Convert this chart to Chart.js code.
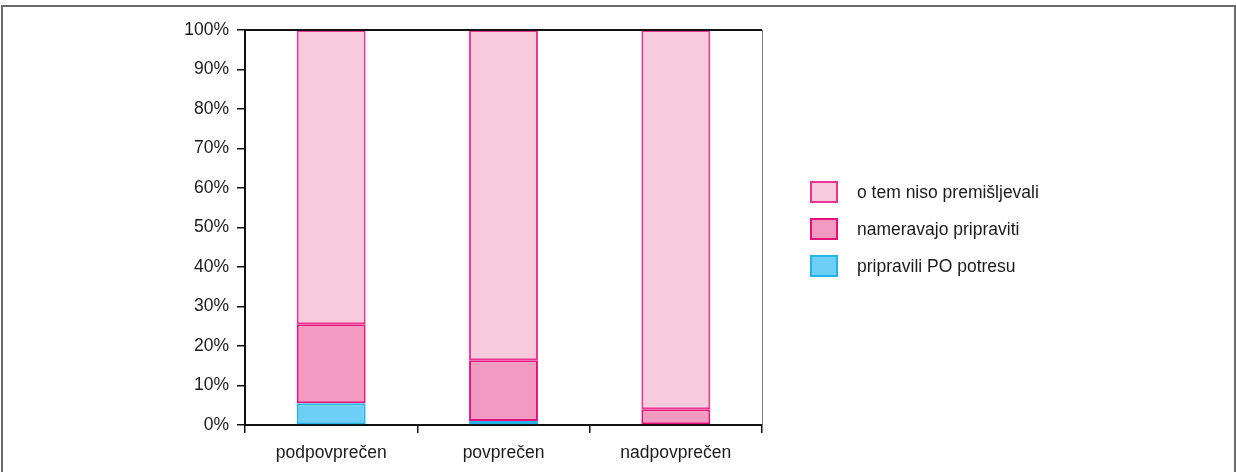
<!DOCTYPE html>
<html><head><meta charset="utf-8">
<script src="https://cdn.jsdelivr.net/npm/chart.js@4/dist/chart.umd.min.js"></script>
<style>
html,body{margin:0;padding:0;background:#fff;width:1236px;height:472px;overflow:hidden;font-family:"Liberation Sans",Arial,sans-serif;}
#frame{position:absolute;left:1px;top:5px;width:1231px;height:480px;border:2px solid #6b6b6b;border-bottom:none;}
#wrap{position:absolute;left:0;top:0;width:1236px;height:472px;}
#legend{position:absolute;left:810px;top:181px;}
.item{position:relative;height:37px;}
.box{position:absolute;left:0;top:0;width:24px;height:18px;border:2px solid;}
.lab{position:absolute;left:47px;top:1px;font-size:17.5px;color:#1a1a1a;white-space:nowrap;line-height:20px;}
</style></head>
<body>
<div id="frame"></div>
<div id="wrap"><canvas id="c" width="1236" height="472"></canvas></div>
<div id="legend"></div>
<script>
const categories = ["podpovprečen", "povprečen", "nadpovprečen"];
const seriesNames = ["pripravili PO potresu", "nameravajo pripraviti", "o tem niso premišljevali"];
const pripraviliPO = [5.5, 1.0, 0];
const nameravajo = [20.0, 15.4, 4.0];
const niso = [74.5, 83.6, 96.0];
const yTicks = [0, 10, 20, 30, 40, 50, 60, 70, 80, 90, 100];

const fills = ["#6dcff6", "#f29ac0", "#f7cade"];
const borders = ["#25b4ea", "#e6117c", "#ec3591"];
const values = [pripraviliPO, nameravajo, niso];

const datasets = seriesNames.map((n, i) => ({
  label: n, data: values[i], backgroundColor: fills[i], borderColor: borders[i],
  borderWidth: 2, borderSkipped: false, barPercentage: 0.4, categoryPercentage: 1
}));

const frameLines = {
  id: 'frameLines',
  afterDraw(chart) {
    const {ctx, chartArea: a} = chart;
    ctx.save();
    ctx.strokeStyle = '#777'; ctx.lineWidth = 1;
    ctx.beginPath(); ctx.moveTo(a.right + 0.5, a.top); ctx.lineTo(a.right + 0.5, a.bottom); ctx.stroke();
    ctx.strokeStyle = '#111'; ctx.lineWidth = 2;
    ctx.beginPath(); ctx.moveTo(a.left, a.top); ctx.lineTo(a.right, a.top); ctx.stroke();
    ctx.restore();
  }
};

Chart.defaults.font.family = '"Liberation Sans", Arial, sans-serif';
Chart.defaults.color = '#1a1a1a';

new Chart(document.getElementById('c'), {
  type: 'bar',
  data: { labels: categories, datasets },
  plugins: [frameLines],
  options: {
    responsive: false, animation: false,
    layout: { padding: { left: 0, right: 474, top: 30, bottom: 0 } },
    plugins: { legend: { display: false }, tooltip: { enabled: false } },
    scales: {
      x: {
        stacked: true, offset: true,
        grid: { offset: true, drawOnChartArea: false, tickLength: 8, color: '#111', lineWidth: 1.5 },
        border: { color: '#111', width: 2 },
        ticks: { font: { size: 17.5 }, padding: 10, color: '#1a1a1a' },
        afterFit: s => { s.height = 47; }
      },
      y: {
        stacked: true, min: 0, max: 100,
        afterBuildTicks: s => { s.ticks = yTicks.map(v => ({ value: v })); },
        grid: { drawOnChartArea: false, tickLength: 8, color: '#111', lineWidth: 1.5 },
        border: { color: '#111', width: 2 },
        ticks: { font: { size: 17.5 }, padding: 8, color: '#1a1a1a', callback: v => v + '%' },
        afterFit: s => { s.width = 245; }
      }
    }
  }
});

const leg = document.getElementById('legend');
[2, 1, 0].forEach(i => {
  const d = document.createElement('div'); d.className = 'item';
  d.innerHTML = '<div class="box" style="background:' + fills[i] + ';border-color:' + borders[i] + '"></div><div class="lab">' + seriesNames[i] + '</div>';
  leg.appendChild(d);
});
</script>
</body></html>
